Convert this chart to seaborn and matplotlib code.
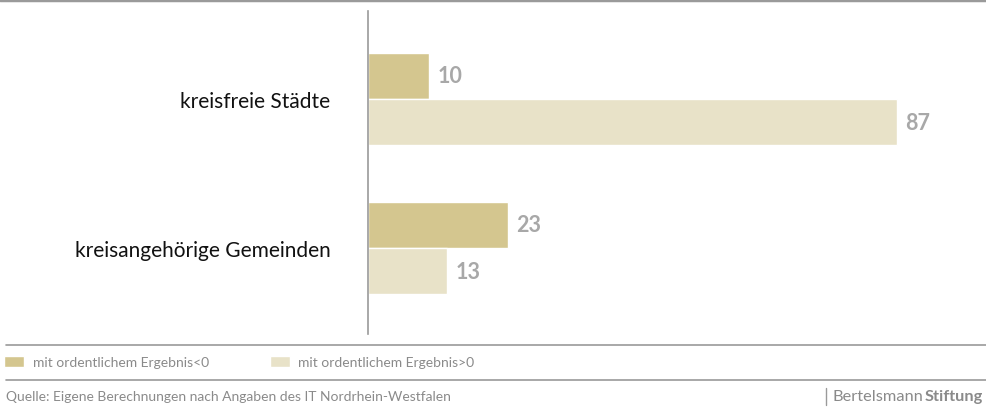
import pandas as pd
import seaborn as sns
import matplotlib.pyplot as plt
from matplotlib.lines import Line2D

# data
categories = ['kreisfreie Städte', 'kreisangehörige Gemeinden']
series = ['mit ordentlichem Ergebnis<0', 'mit ordentlichem Ergebnis>0']
values_neg = [10, 23]
values_pos = [87, 13]

df = pd.DataFrame({
    'Gruppe': categories * 2,
    'Ergebnis': [series[0]] * 2 + [series[1]] * 2,
    'Anzahl': values_neg + values_pos,
})

sns.set_style('white')
plt.rcParams['font.family'] = ['Lato', 'DejaVu Sans']

W, H = 987, 410
fig = plt.figure(figsize=(W / 100, H / 100), dpi=100)
# axes: zero line at x=368, 100 units -> 608 px; y from 12 to 335 px
ax = fig.add_axes([368 / W, 1 - 335 / H, 608 / W, 323 / H])

sns.barplot(data=df, x='Anzahl', y='Gruppe', hue='Ergebnis', order=categories,
            hue_order=series, palette=['#d4c68f', '#e8e2c8'], width=0.62,
            orient='h', saturation=1, ax=ax)

for cont in ax.containers:
    ax.bar_label(cont, padding=6, color='#a8a8a8', fontsize=15.5, fontweight='bold')

ax.set_xlim(0, 100)
ax.set_ylim(1.577, -0.59)
ax.set_xlabel('')
ax.set_ylabel('')
ax.set_xticks([])
for s in ['top', 'right', 'bottom']:
    ax.spines[s].set_visible(False)
ax.spines['left'].set_color('#9a9a9a')
ax.spines['left'].set_linewidth(1.2)
ax.tick_params(axis='y', length=0, pad=27, labelsize=15, labelcolor='#111111')

handles, labels = ax.get_legend_handles_labels()
ax.get_legend().remove()
fig.legend(handles, labels, loc='center left', bbox_to_anchor=(0.0, 1 - 363 / H),
           ncol=2, frameon=False, fontsize=10, labelcolor='#8a8a8a',
           handlelength=1.45, handleheight=0.8, handletextpad=0.6,
           columnspacing=4.4, borderaxespad=0, borderpad=0.3)

# rules
fig.add_artist(Line2D([0, 1], [1 - 1 / H, 1 - 1 / H], color='#9a9a9a', lw=2.5))
fig.add_artist(Line2D([6 / W, 1], [1 - 346 / H] * 2, color='#9a9a9a', lw=1.2))
fig.add_artist(Line2D([6 / W, 1], [1 - 381 / H] * 2, color='#9a9a9a', lw=1.2))
fig.add_artist(Line2D([826 / W] * 2, [1 - 389 / H, 1 - 406 / H], color='#9a9a9a', lw=1))

fig.text(6 / W, 1 - 397 / H, 'Quelle: Eigene Berechnungen nach Angaben des IT Nordrhein-Westfalen',
         fontsize=10, color='#8a8a8a', va='center', ha='left')
brand = fig.text(833 / W, 1 - 397 / H, 'Bertelsmann', fontsize=11.8, color='#8a8a8a',
                 va='center', ha='left')
fig.canvas.draw()
bb = brand.get_window_extent().transformed(fig.transFigure.inverted())
fig.text(bb.x1 + 1 / W, 1 - 397 / H, 'Stiftung', fontsize=11.8, color='#8a8a8a',
         fontweight='bold', va='center', ha='left')

fig.savefig('out.png', dpi=100)
